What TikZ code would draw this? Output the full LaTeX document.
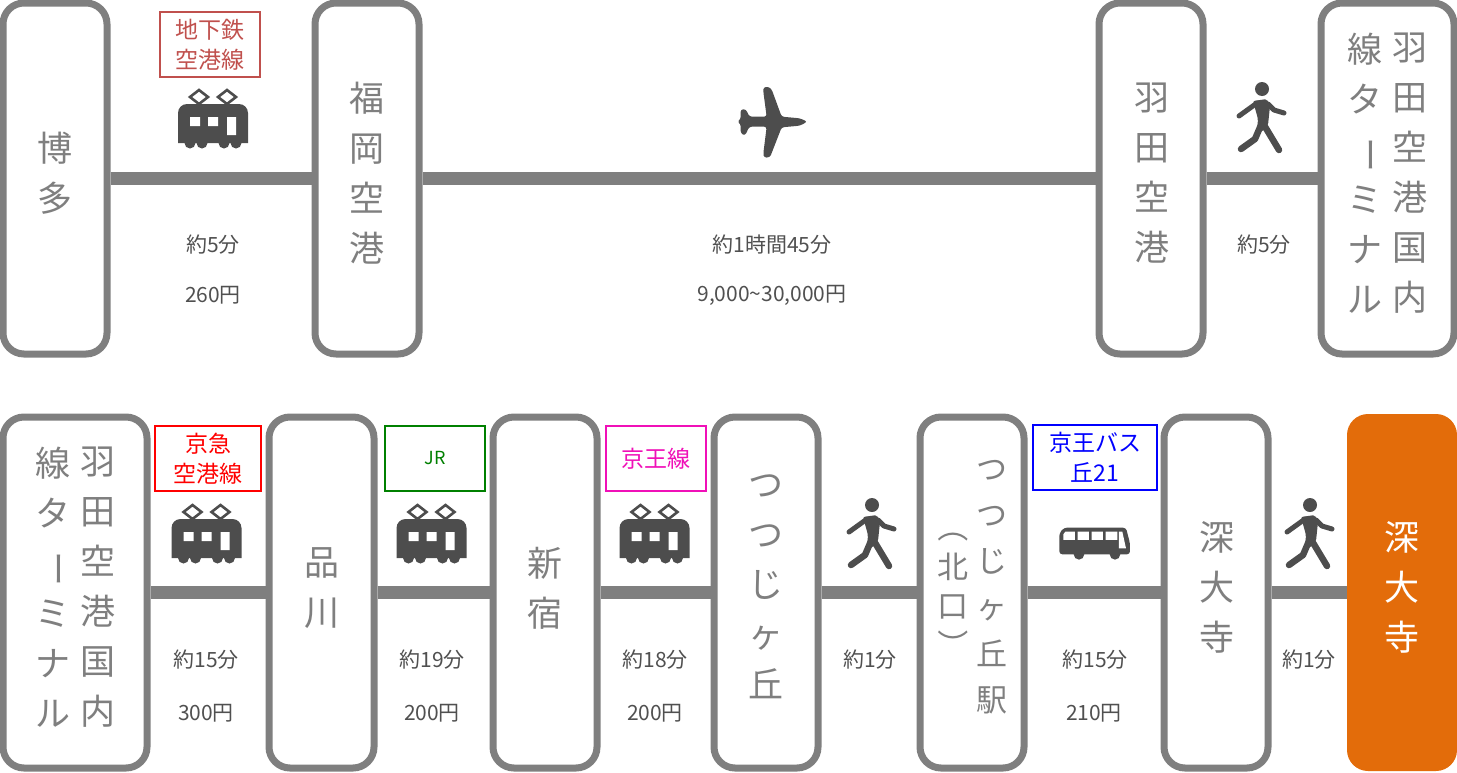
\documentclass[tikz,border=0pt]{standalone}
\usepackage{fontspec}
\usepackage{graphicx}
\setmainfont{Noto Sans CJK JP}
\definecolor{linegray}{HTML}{7F7F7F}
\definecolor{icongray}{HTML}{4D4D4D}
\definecolor{labelgray}{HTML}{505050}
\definecolor{endorange}{HTML}{E36C0A}
\definecolor{subwayred}{HTML}{C0504D}
\definecolor{keiopink}{HTML}{F010B8}
\definecolor{jrgreen}{HTML}{008000}
\newcommand{\rotch}[1]{\rotatebox[origin=c]{-90}{#1}}
\newcommand{\trainicon}[2]{%
  \begin{scope}[shift={(#1,#2)}]
    \draw[icongray,line width=2.6pt,line join=miter] (21,0) -- (30,7) -- (21,14) -- (12,7) -- cycle;
    \draw[icongray,line width=2.6pt,line join=miter] (49,0) -- (58,7) -- (49,14) -- (40,7) -- cycle;
    \fill[icongray] (0,53) -- (0,26) [rounded corners=9pt] -- (0,14) -- (70,14) [sharp corners] -- (70,26) -- (70,53) [rounded corners=0pt] -- cycle;
    \fill[icongray] (12,53) circle (5.5) (24,53) circle (5.5) (46,53) circle (5.5) (58,53) circle (5.5);
    \fill[white] (12,27) rectangle (22,36) (30,27) rectangle (40,36) (49,27) rectangle (58,45);
  \end{scope}}
\newcommand{\walkicon}[2]{%
  \begin{scope}[shift={(#1,#2)}]
    \fill[icongray] (0,0) circle (7);
    \fill[icongray,rounded corners=2pt] (-9,12) -- (5,10) -- (8,17) -- (6,36) -- (2,42) -- (-5,42) -- (-4,30) -- cycle;
    \draw[icongray,line width=5pt,line cap=round,line join=round] (-5,14) -- (-23,27);
    \draw[icongray,line width=5pt,line cap=round,line join=round] (6,15) -- (12,21) -- (22,24);
    \draw[icongray,line width=6.5pt,line cap=round,line join=round] (-1,36) -- (-7,50) -- (-21,60);
    \draw[icongray,line width=6.5pt,line cap=round,line join=round] (2,36) -- (17,61);
  \end{scope}}
\newcommand{\planeicon}[2]{%
  \begin{scope}[shift={(#1,#2)},x=0.3333pt,y=-0.3333pt]
    \fill[icongray,rounded corners=2.5pt] (262,155) -- (240,145) -- (185,140) -- (155,58) -- (145,50) -- (130,52) -- (130,65) -- (140,140) -- (88,140) -- (78,118) -- (62,118) -- (62,148) -- (52,155) -- (62,162) -- (62,190) -- (75,197) -- (88,170) -- (140,170) -- (130,250) -- (132,263) -- (150,262) -- (185,172) -- (240,167) -- cycle;
  \end{scope}}
\newcommand{\busicon}[2]{%
  \begin{scope}[shift={(#1,#2)},x=0.3333pt,y=-0.3333pt]
    \fill[icongray,rounded corners=3pt] (418,418) -- (418,355) -- (432,338) -- (618,338) -- (630,385) -- (630,418) -- cycle;
    \fill[icongray] (477,418) circle (5.3pt) (585,418) circle (5.3pt);
    \fill[white] (430,375) -- (430,358) -- (436,350) -- (465,350) -- (465,375) -- cycle
      (473,350) rectangle (507,375) (515,350) rectangle (549,375) (557,350) rectangle (592,375)
      (597,350) -- (607,350) -- (618,400) -- (597,400) -- cycle;
  \end{scope}}
\tikzset{
  station/.style={draw=linegray,line width=7pt,rounded corners=21pt,fill=white,minimum height=351pt,inner sep=0pt},
  goal/.style={fill=endorange,rounded corners=21pt,minimum width=110pt,minimum height=357pt,inner sep=0pt},
  stname/.style={text=linegray,align=center,inner sep=0pt,font=\fontsize{35}{50}\selectfont},
  link/.style={draw=linegray,line width=13pt},
  info/.style={text=labelgray,inner sep=0pt,font=\fontsize{21}{25}\selectfont},
  routebox/.style={draw=#1,text=#1,line width=2pt,fill=white,minimum height=65pt,inner sep=0pt,align=center,font=\fontsize{23}{30}\selectfont},
}
\begin{document}
\begin{tikzpicture}[x=1pt,y=-1pt]
\path[use as bounding box] (0,0) rectangle (1457,772);
% top row stations
\node[station,minimum width=104pt] (hakata) at (55,178.5) {};
\node[station,minimum width=104pt] (fukuoka) at (367,178.5) {};
\node[station,minimum width=104pt] (haneda) at (1151,178.5) {};
\node[station,minimum width=133pt] (terminalA) at (1387.5,178.5) {};
% bottom row stations
\node[station,minimum width=144pt] (terminalB) at (75,592.5) {};
\node[station,minimum width=105pt] (shinagawa) at (321.5,592.5) {};
\node[station,minimum width=104pt] (shinjuku) at (545,592.5) {};
\node[station,minimum width=104pt] (tsutsuji) at (766,592.5) {};
\node[station,minimum width=104pt] (tsutsujiN) at (972,592.5) {};
\node[station,minimum width=104pt] (jindaiji) at (1216,592.5) {};
\node[goal] (goal) at (1402,592.5) {};
% connectors
\draw[link] (hakata) -- (fukuoka);
\draw[link] (fukuoka) -- (haneda);
\draw[link] (haneda) -- (terminalA);
\draw[link] (terminalB) -- (shinagawa);
\draw[link] (shinagawa) -- (shinjuku);
\draw[link] (shinjuku) -- (tsutsuji);
\draw[link] (tsutsuji) -- (tsutsujiN);
\draw[link] (tsutsujiN) -- (jindaiji);
\draw[link] (jindaiji) -- (goal);
% station names
\node[stname] (n1) at (55,173) {博\\多};
\node[stname] (n2) at (367,173) {福\\岡\\空\\港};
\node[stname] (n3) at (1152,173) {羽\\田\\空\\港};
\node[stname] (n4a) at (1410,173) {羽\\田\\空\\港\\国\\内};
\node[stname] (n4b) at (1365,173) {線\\タ\\\rotch{ー}\\ミ\\ナ\\ル};
\node[stname] (n5a) at (98,587) {羽\\田\\空\\港\\国\\内};
\node[stname] (n5b) at (53,587) {線\\タ\\\rotch{ー}\\ミ\\ナ\\ル};
\node[stname] (n6) at (322,588) {品\\川};
\node[stname] (n7) at (545,588) {新\\宿};
\node[stname] (n8) at (766,587) {つ\\つ\\じ\\ヶ\\丘};
\node[stname,font=\fontsize{31}{46.3}\selectfont] (n9a) at (992,587) {つ\\つ\\じ\\ヶ\\丘\\駅};
\node[stname,font=\fontsize{31}{39.5}\selectfont] (n9b) at (953,586) {\rotch{（}\\北\\口\\\rotch{）}};
\node[stname] (n10) at (1217,587) {深\\大\\寺};
\node[stname,text=white] (n11) at (1402,587) {深\\大\\寺};
% route labels
\node[routebox=subwayred,minimum width=100pt] (r1) at (210,44.5) {地下鉄\\空港線};
\node[routebox=red,minimum width=106pt] (r2) at (208,458.5) {京急\\空港線};
\node[routebox=jrgreen,minimum width=100pt,font=\fontsize{18}{24}\selectfont] (r3) at (435,458.5) {JR};
\node[routebox=keiopink,minimum width=100pt] (r4) at (656,458.5) {京王線};
\node[routebox=blue,minimum width=124pt] (r5) at (1095,457.5) {京王バス\\丘21};
% icons
\trainicon{178}{90}
\trainicon{171.5}{505}
\trainicon{396.5}{505}
\trainicon{619.5}{505}
\planeicon{720}{70}
\walkicon{1262}{89}
\walkicon{872}{505}
\walkicon{1310}{505}
\busicon{920}{415}
% times and fares
\node[info] (t1) at (213,245) {約5分};
\node[info] (f1) at (213,295) {260円};
\node[info] (t2) at (772,245) {約1時間45分};
\node[info] (f2) at (772,295) {9,000\textasciitilde 30,000円};
\node[info] (t3) at (1264,245) {約5分};
\node[info] (t4) at (206,660) {約15分};
\node[info] (f4) at (206,713) {300円};
\node[info] (t5) at (432,660) {約19分};
\node[info] (f5) at (432,713) {200円};
\node[info] (t6) at (655,660) {約18分};
\node[info] (f6) at (655,713) {200円};
\node[info] (t7) at (870,660) {約1分};
\node[info] (t8) at (1095,660) {約15分};
\node[info] (f8) at (1094,713) {210円};
\node[info] (t9) at (1309,660) {約1分};
\end{tikzpicture}
\end{document}
